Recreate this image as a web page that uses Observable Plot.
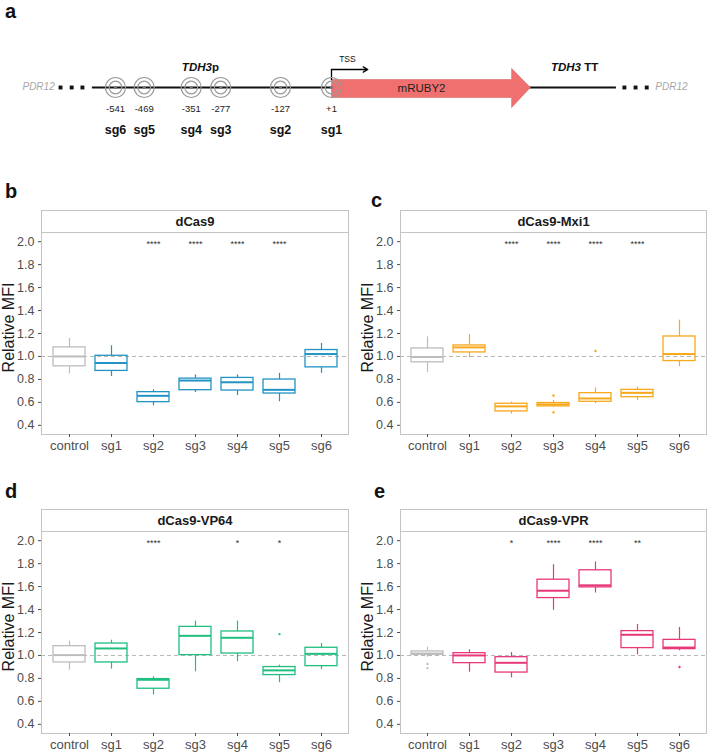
<!DOCTYPE html>
<html><head><meta charset="utf-8">
<script src="https://cdn.jsdelivr.net/npm/d3@7"></script>
<script src="https://cdn.jsdelivr.net/npm/@observablehq/plot@0.6"></script>
<style>
body{margin:0;background:#fff;}
#fig{position:relative;width:708px;height:753px;font-family:"Liberation Sans",Arial,sans-serif;overflow:hidden;}
.lab{position:absolute;font-weight:bold;font-size:20px;line-height:20px;color:#111;}
.strip{position:absolute;box-sizing:border-box;height:23px;border:1px solid #c4c4c4;font-weight:bold;font-size:13px;text-align:center;line-height:21px;color:#1a1a1a;background:#fff;}
.pl{position:absolute;}
</style></head><body><div id="fig"></div>
<script>
// ---------- Panel a data ----------
const siteBp = [-541, -469, -351, -277, -127, 1];
const siteNames = ["sg6", "sg5", "sg4", "sg3", "sg2", "sg1"];
const siteNums = ["-541", "-469", "-351", "-277", "-127", "+1"];
// schematic feature anchors (bp, schematic, not to scale for the gene)
const dotsLeftBp = [-679, -651, -624];
const dotsRightBp = [736, 764, 792];

// ---------- Box-plot data ----------
const cats = ["control", "sg1", "sg2", "sg3", "sg4", "sg5", "sg6"];
const yTicks = [0.4, 0.6, 0.8, 1.0, 1.2, 1.4, 1.6, 1.8, 2.0];

// b: dCas9
const b_lo  = [0.848, 0.825, 0.570, 0.686, 0.660, 0.605, 0.853];
const b_q1  = [0.914, 0.874, 0.602, 0.706, 0.703, 0.677, 0.905];
const b_med = [1.000, 0.943, 0.657, 0.790, 0.775, 0.709, 1.021];
const b_q3  = [1.079, 1.006, 0.689, 0.807, 0.813, 0.799, 1.056];
const b_hi  = [1.157, 1.093, 0.709, 0.839, 0.839, 0.853, 1.113];
const b_out = [];
const b_sig = ["", "", "****", "****", "****", "****", ""];

// c: dCas9-Mxi1
const c_lo  = [0.859, 0.989, 0.498, 0.556, 0.588, 0.617, 0.911];
const c_q1  = [0.949, 1.035, 0.521, 0.565, 0.605, 0.645, 0.960];
const c_med = [0.995, 1.079, 0.565, 0.582, 0.634, 0.683, 1.021];
const c_q3  = [1.070, 1.096, 0.588, 0.594, 0.680, 0.709, 1.174];
const c_hi  = [1.171, 1.191, 0.602, 0.617, 0.726, 0.732, 1.316];
const c_out = [["sg3", 0.660], ["sg3", 0.513], ["sg4", 1.047]];
const c_sig = ["", "", "****", "****", "****", "****", ""];

// d: dCas9-VP64
const d_lo  = [0.872, 0.881, 0.655, 0.858, 0.945, 0.762, 0.878];
const d_q1  = [0.939, 0.939, 0.710, 1.003, 1.017, 0.829, 0.907];
const d_med = [1.003, 1.061, 0.788, 1.171, 1.154, 0.870, 1.014];
const d_q3  = [1.081, 1.104, 0.794, 1.249, 1.209, 0.899, 1.067];
const d_hi  = [1.125, 1.133, 0.814, 1.299, 1.299, 0.916, 1.104];
const d_out = [["sg5", 1.186]];
const d_sig = ["", "", "****", "", "*", "*", ""];

// e: dCas9-VPR
const e_lo  = [0.985, 0.854, 0.805, 1.393, 1.544, 1.005, 1.040];
const e_q1  = [1.005, 0.933, 0.851, 1.500, 1.593, 1.064, 1.055];
const e_med = [1.017, 1.000, 0.936, 1.564, 1.611, 1.180, 1.069];
const e_q3  = [1.035, 1.020, 0.985, 1.660, 1.742, 1.212, 1.136];
const e_hi  = [1.072, 1.049, 1.026, 1.790, 1.815, 1.270, 1.244];
const e_out = [["control", 0.925], ["control", 0.890], ["sg6", 0.900]];
const e_sig = ["", "", "*", "****", "****", "**", ""];

const GRAY = "#bdbdbd";
const FONT = "'Liberation Sans', Arial, sans-serif";
const fig = document.getElementById("fig");

function place(el, left, top, cls) {
  const wrap = document.createElement("div");
  wrap.className = cls || "pl";
  wrap.style.left = left + "px";
  wrap.style.top = top + "px";
  wrap.appendChild(el);
  fig.appendChild(wrap);
  return wrap;
}
function addDiv(cls, text, left, top, width) {
  const d = document.createElement("div");
  d.className = cls;
  d.textContent = text;
  d.style.left = left + "px";
  d.style.top = top + "px";
  if (width) d.style.width = width + "px";
  fig.appendChild(d);
}

// ---------- Panel a ----------
(function () {
  const pxPerBp = 0.3985, tssPx = 331, W = 708, H = 140;
  const xDom = [1 - tssPx / pxPerBp, 1 + (W - tssPx) / pxPerBp];
  const lineY = 87;
  const arrowPts = [
    {x: 1, y: 79}, {x: 453, y: 79}, {x: 453, y: 68}, {x: 500, y: lineY},
    {x: 453, y: 107}, {x: 453, y: 97}, {x: 1, y: 97}, {x: 1, y: 79}
  ];
  const svg = Plot.plot({
    width: W, height: H, margin: 0,
    style: {fontFamily: FONT, background: "transparent", overflow: "visible"},
    x: {domain: xDom, range: [0, W], axis: null},
    y: {domain: [0, H], range: [0, H], axis: null},
    marks: [
      Plot.ruleY([lineY], {x1: -599, x2: 716, stroke: "#111", strokeWidth: 2}),
      Plot.dot(dotsLeftBp.concat(dotsRightBp), {x: d => d, y: () => lineY, symbol: "square", r: 2.2, fill: "#111", stroke: null}),
      Plot.line(arrowPts, {x: "x", y: "y", fill: "#f07070", stroke: "#d46a6a", strokeWidth: 0.6}),
      Plot.ruleX([1], {y1: () => 69, y2: () => 80, stroke: "#000", strokeWidth: 1.3}),
      Plot.arrow([0], {x1: () => 1, y1: () => 69, x2: () => 92, y2: () => 69, stroke: "#000", strokeWidth: 1.3, headLength: 6, bend: 0}),
      Plot.text(["TSS"], {x: () => 41, y: () => 59, fontSize: 8.5, fill: "#111"}),
      Plot.dot(siteBp, {x: d => d, y: () => lineY, r: 10, stroke: "#9a9a9a", strokeWidth: 1.2, fill: "none"}),
      Plot.dot(siteBp, {x: d => d, y: () => lineY, r: 6.3, stroke: "#9a9a9a", strokeWidth: 1.2, fill: "none"}),
      Plot.dot(siteBp, {x: d => d, y: () => lineY, r: 1.6, fill: "#777", stroke: null}),
      Plot.text(siteBp, {x: d => d, y: () => 108, text: (d, i) => siteNums[i], fontSize: 9.5, fill: "#222"}),
      Plot.text(siteBp, {x: d => d, y: () => 129, text: (d, i) => siteNames[i], fontSize: 12.5, fontWeight: "bold", fill: "#111"}),
      Plot.text(["mRUBY2"], {x: () => 227, y: () => 88, fontSize: 11.5, fill: "#222"}),
      Plot.text(["PDR12", "PDR12"], {x: (d, i) => i === 0 ? -734 : 854, y: () => 86, fontSize: 10, fontStyle: "italic", fill: "#a8a8a8"}),
      Plot.text(["TDH3p"], {x: () => -328, y: () => 67, fontSize: 11.5, fontWeight: "bold", fill: "#111"}),
      Plot.text(["TDH3 TT"], {x: () => 611, y: () => 67, fontSize: 11.5, fontWeight: "bold", fill: "#111"})
    ]
  });
  // mixed italic styling for gene names
  const NS = "http://www.w3.org/2000/svg";
  svg.querySelectorAll("text").forEach(t => {
    const s = t.textContent;
    let parts = null;
    if (s === "TDH3p") parts = [["TDH3", true], ["p", false]];
    if (s === "TDH3 TT") parts = [["TDH3", true], [" TT", false]];
    if (parts) {
      while (t.firstChild) t.removeChild(t.firstChild);
      parts.forEach(([txt, it]) => {
        const ts = document.createElementNS(NS, "tspan");
        ts.textContent = txt;
        if (it) ts.setAttribute("font-style", "italic");
        t.appendChild(ts);
      });
    }
  });
  place(svg, 0, 0);
})();

// ---------- Box-plot panels ----------
function boxPanel(o) {
  const rows = cats.map((c, i) => ({
    cat: c, lo: o.lo[i], q1: o.q1[i], med: o.med[i], q3: o.q3[i], hi: o.hi[i],
    col: c === "control" ? GRAY : o.color, sig: o.sig[i]
  }));
  const outs = o.out.map(([c, v]) => ({cat: c, v, col: c === "control" ? GRAY : o.color}));
  const svg = Plot.plot({
    width: 354, height: 224,
    marginLeft: o.ml, marginRight: o.mr, marginTop: 0, marginBottom: 22,
    style: {fontFamily: FONT, fontSize: "12.5px", background: "transparent", overflow: "visible"},
    x: {type: "band", domain: cats, paddingInner: 0.25, paddingOuter: 0.225, label: null},
    y: {domain: [0.32, 2.08], label: null},
    color: {type: "identity"},
    marks: [
      Plot.frame({stroke: "#c4c4c4"}),
      Plot.ruleY([1], {stroke: "#b5b5b5", strokeDasharray: "4,3"}),
      Plot.ruleX(rows, {x: "cat", y1: "q3", y2: "hi", stroke: "col", strokeWidth: 1.2}),
      Plot.ruleX(rows, {x: "cat", y1: "lo", y2: "q1", stroke: "col", strokeWidth: 1.2}),
      Plot.barY(rows, {x: "cat", y1: "q1", y2: "q3", fill: "none", stroke: "col", strokeWidth: 1.3}),
      Plot.tickY(rows, {x: "cat", y: "med", stroke: "col", strokeWidth: 2}),
      Plot.dot(outs, {x: "cat", y: "v", r: 1.2, fill: "col", stroke: null}),
      Plot.text(rows.filter(d => d.sig), {x: "cat", y: () => 2.0, text: "sig", fontSize: 9, dy: 2, fill: "#333"}),
      Plot.axisY({ticks: yTicks, tickFormat: d => d.toFixed(1), tickSize: 3, tickPadding: 4, fontSize: 12.5, color: "#4d4d4d", label: null}),
      Plot.axisX({tickSize: 3, tickPadding: 3, fontSize: 13, color: "#4d4d4d", label: null}),
      Plot.text(["Relative MFI"], {text: d => d, frameAnchor: "left", textAnchor: "middle", rotate: -90, dx: -33, dy: -6, fontSize: 16, fill: "#1a1a1a"})
    ]
  });
  place(svg, o.left, o.top + 22);
  addDiv("strip", o.title, o.left + o.ml, o.top, 354 - o.ml - o.mr + 1);
}

boxPanel({left: 0, top: 210, ml: 41, mr: 6, color: "#2293c4", title: "dCas9",
  lo: b_lo, q1: b_q1, med: b_med, q3: b_q3, hi: b_hi, out: b_out, sig: b_sig});
boxPanel({left: 354, top: 210, ml: 46, mr: 2, color: "#f7a81b", title: "dCas9-Mxi1",
  lo: c_lo, q1: c_q1, med: c_med, q3: c_q3, hi: c_hi, out: c_out, sig: c_sig});
boxPanel({left: 0, top: 509, ml: 41, mr: 6, color: "#1fbf80", title: "dCas9-VP64",
  lo: d_lo, q1: d_q1, med: d_med, q3: d_q3, hi: d_hi, out: d_out, sig: d_sig});
boxPanel({left: 354, top: 509, ml: 46, mr: 2, color: "#e8387a", title: "dCas9-VPR",
  lo: e_lo, q1: e_q1, med: e_med, q3: e_q3, hi: e_hi, out: e_out, sig: e_sig});

// panel letters
addDiv("lab", "a", 5, 1);
addDiv("lab", "b", 5, 181);
addDiv("lab", "c", 371, 190);
addDiv("lab", "d", 5, 481);
addDiv("lab", "e", 374, 481);
</script></body></html>
